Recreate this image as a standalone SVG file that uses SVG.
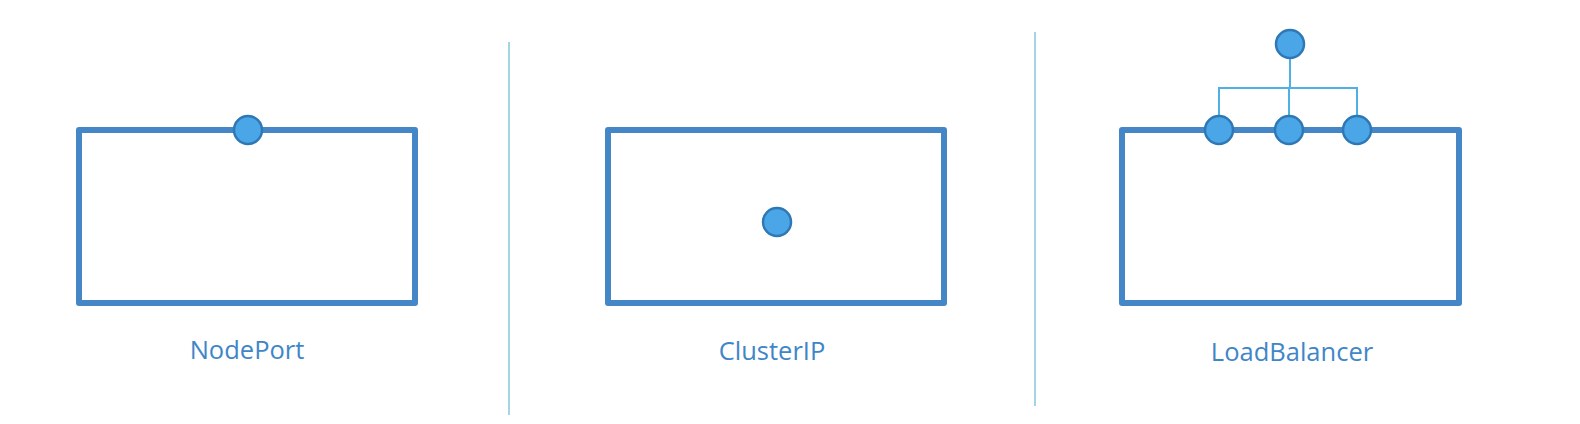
<svg xmlns="http://www.w3.org/2000/svg" width="1580" height="424" viewBox="0 0 1580 424">
  <style>
    .box { fill: #ffffff; stroke: #4587c6; stroke-width: 6; stroke-linejoin: round; }
    .port { fill: #4ba6e8; stroke: #2f78b6; stroke-width: 2.5; }
    .link { fill: none; stroke: #4fb0e6; stroke-width: 2; }
    .divider { stroke: #8ecbdd; stroke-width: 1.6; }
    .label { font-family: "Open Sans", "Noto Sans", sans-serif; font-size: 25.5px; fill: #3f86c8; text-anchor: middle; }
  </style>
  <rect width="1580" height="424" fill="#ffffff"/>
  <g id="dividers">
    <line class="divider" x1="509" y1="42" x2="509" y2="415"/>
    <line class="divider" x1="1035" y1="32" x2="1035" y2="406"/>
  </g>
  <g id="connectors">
    <path class="link" d="M1290 58 V88 M1219 116 V88 H1357 V116 M1289 88 V116"/>
  </g>
  <g id="nodeport">
    <rect class="box" x="79" y="130" width="336" height="173"/>
    <circle class="port" cx="248" cy="130" r="14"/>
    <text class="label" x="247" y="359">NodePort</text>
  </g>
  <g id="clusterip">
    <rect class="box" x="608" y="130" width="336" height="173"/>
    <circle class="port" cx="777" cy="222" r="14"/>
    <text class="label" x="772" y="360">ClusterIP</text>
  </g>
  <g id="loadbalancer">
    <rect class="box" x="1122" y="130" width="337" height="173"/>
    <circle class="port" cx="1219" cy="130" r="14"/>
    <circle class="port" cx="1289" cy="130" r="14"/>
    <circle class="port" cx="1357" cy="130" r="14"/>
    <circle class="port" cx="1290" cy="44" r="14"/>
    <text class="label" x="1292" y="361">LoadBalancer</text>
  </g>
</svg>
